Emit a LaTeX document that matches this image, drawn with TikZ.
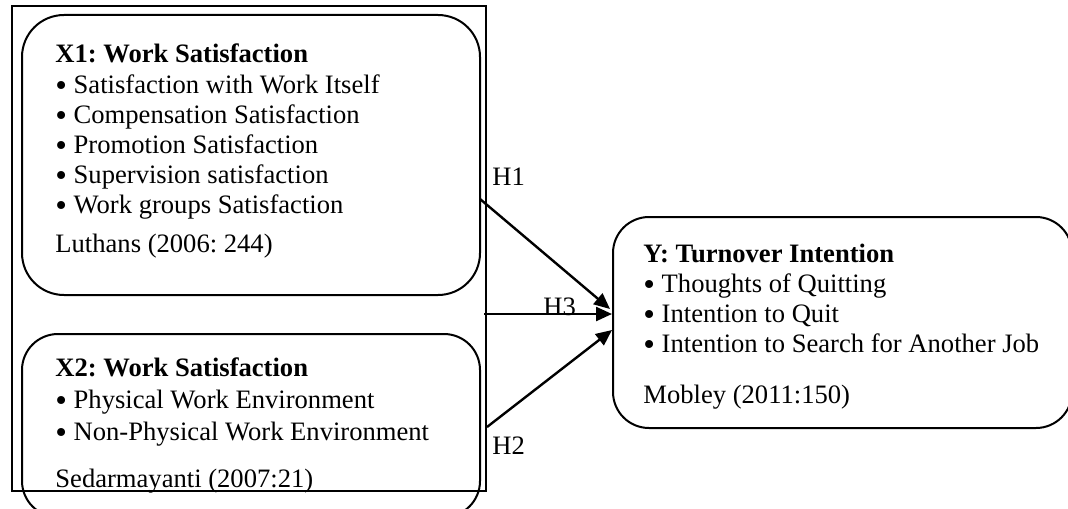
\documentclass[tikz,border=0pt]{standalone}
\usepackage{fontspec}
\setmainfont{Liberation Serif}
\usetikzlibrary{arrows.meta}
\frenchspacing

\newcommand{\itm}{\raisebox{-0.12em}{\scalebox{1.25}{\textbullet}}}

\tikzset{
  varbox/.style={draw, line width=1pt, inner sep=0pt, outer sep=0pt},
  itemtxt/.style={anchor=base west, inner sep=0pt, font=\fontsize{13.3}{15}\selectfont},
  hyp/.style={line width=1.2pt, -{Triangle[length=8pt,width=7pt]}}
}

\begin{document}
\begin{tikzpicture}[x=0.5pt,y=-0.5pt]
\useasboundingbox (0,0) rectangle (1068,508);
\begin{scope}
\clip (0,0) rectangle (1068,508);
% frame round the two independent variables
\draw[line width=1pt] (12,6) rectangle (486,491);
\node[varbox, rounded corners=21pt, minimum width=229pt, minimum height=140pt] (x1box) at (251,155) {};
\node[varbox, rounded corners=18pt, minimum width=229pt, minimum height=91.5pt] (x2box) at (251,425.5) {};
\node[varbox, rounded corners=18pt, minimum width=229.5pt, minimum height=105.5pt] (ybox) at (842.5,322.5) {};
\end{scope}

% X1
\node[itemtxt] (x1head) at (55,63) {\textbf{X1: Work Satisfaction}};
\foreach \t [count=\i] in {Satisfaction with Work Itself, Compensation Satisfaction,
    Promotion Satisfaction, Supervision satisfaction, Work groups Satisfaction}
  \node[itemtxt] (x1item\i) at (55,{63+30*\i}) {\itm\ \t};
\node[itemtxt] (x1src) at (55,252) {Luthans (2006: 244)};

% X2
\node[itemtxt] (x2head) at (55,376) {\textbf{X2: Work Satisfaction}};
\foreach \t [count=\i] in {Physical Work Environment, Non-Physical Work Environment}
  \node[itemtxt] (x2item\i) at (55,{377+31.5*\i}) {\itm\ \t};
\node[itemtxt] (x2src) at (55,487) {Sedarmayanti (2007:21)};

% Y
\node[itemtxt] (yhead) at (643,262) {\textbf{Y: Turnover Intention}};
\foreach \t [count=\i] in {Thoughts of Quitting, Intention to Quit,
    Intention to Search for Another Job}
  \node[itemtxt] (yitem\i) at (643,{262+30*\i}) {\itm\ \t};
\node[itemtxt] (ysrc) at (643,403) {Mobley (2011:150)};

% hypotheses
\coordinate (h1s) at (480,199);
\coordinate (h1e) at (610,309);
\coordinate (h3s) at (484,314);
\coordinate (h3e) at (612,314);
\coordinate (h2s) at (487,427);
\coordinate (h2e) at (612,330);
\draw[hyp] (h1s) -- (h1e);
\draw[hyp] (h3s) -- (h3e);
\draw[hyp] (h2s) -- (h2e);
\node[itemtxt] (h1) at (492,185) {H1};
\node[itemtxt] (h3) at (543,315) {H3};
\node[itemtxt] (h2) at (492,454) {H2};
\end{tikzpicture}
\end{document}
